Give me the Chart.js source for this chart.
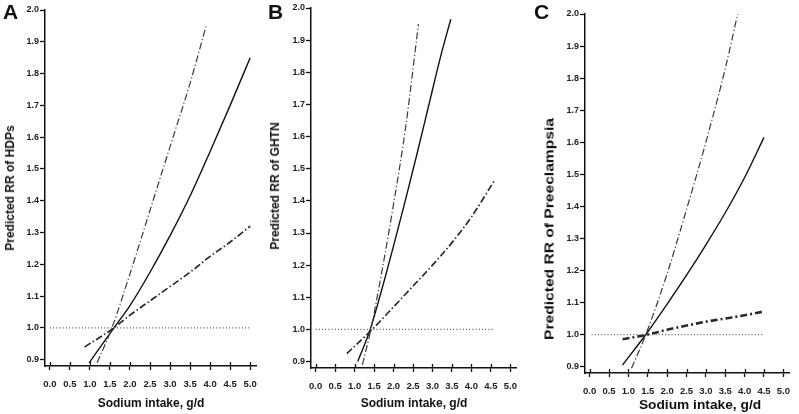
<!DOCTYPE html>
<html>
<head>
<meta charset="utf-8">
<script src="https://cdn.jsdelivr.net/npm/chart.js@4.4.1/dist/chart.umd.min.js"></script>
<style>
    body { margin: 0; background: #fff; width: 799px; height: 414px; position: relative; overflow: hidden; }
    .panel { position: absolute; top: 0; height: 414px; }
    .letter { position: absolute; top: 0; font: bold 21px "Liberation Sans", Arial, sans-serif; color: #111; }
    .title {
        position: absolute; white-space: nowrap; color: #111;
        font-family: "Liberation Sans", Arial, sans-serif; font-weight: bold;
    }
</style>
</head>
<body>
<div class="panel" style="left:0; width:266px"><canvas id="chartA"></canvas></div>
<div class="panel" style="left:266px; width:260px"><canvas id="chartB"></canvas></div>
<div class="panel" style="left:540px; width:259px"><canvas id="chartC"></canvas></div>
<div class="letter" style="left:3px">A</div>
<div class="letter" style="left:268px">B</div>
<div class="letter" style="left:534px">C</div>
<!-- axis titles: centre point, then rotate / stretch like the figure -->
<div class="title" style="left:10px; top:188px; font-size:12px; transform:translate(-50%,-50%) rotate(-90deg)">Predicted RR of HDPs</div>
<div class="title" style="left:275px; top:186px; font-size:12px; transform:translate(-50%,-50%) rotate(-90deg)">Predicted RR of GHTN</div>
<div class="title" style="left:549px; top:229px; font-size:13px; transform:translate(-50%,-50%) rotate(-90deg) scaleX(1.2)">Predicted RR of Preeclampsia</div>
<div class="title" style="left:151px; top:403px; font-size:12px; transform:translate(-50%,-50%)">Sodium intake, g/d</div>
<div class="title" style="left:414px; top:403px; font-size:12px; transform:translate(-50%,-50%)">Sodium intake, g/d</div>
<div class="title" style="left:700px; top:405px; font-size:12.5px; transform:translate(-50%,-50%) scaleX(1.1)">Sodium intake, g/d</div>
<script>
// Tick values shared by the three panels
const xTicks = [0, 0.5, 1, 1.5, 2, 2.5, 3, 3.5, 4, 4.5, 5];
const yTicks = [0.9, 1.0, 1.1, 1.2, 1.3, 1.4, 1.5, 1.6, 1.7, 1.8, 1.9, 2.0];

// A : HDPs
const aFitX = [0.98, 1.6, 2.0, 2.5, 3.0, 3.5, 4.0, 4.5, 5.0];
const aFitY = [0.89, 1.0, 1.07, 1.175, 1.29, 1.415, 1.555, 1.70, 1.85];
const aUpX = [1.18, 1.55, 2.0, 2.5, 3.0, 3.5, 3.9];
const aUpY = [0.89, 1.0, 1.17, 1.37, 1.57, 1.77, 1.95];
const aLowX = [0.87, 1.6, 2.0, 2.5, 3.0, 3.5, 4.0, 4.5, 5.0];
const aLowY = [0.94, 1.0, 1.04, 1.085, 1.13, 1.175, 1.225, 1.27, 1.32];
const aRefX = [0, 5.0];

// B : GHTN
const bFitX = [1.08, 1.4, 1.7, 2.0, 2.3, 2.6, 2.9, 3.2, 3.47];
const bFitY = [0.9, 1.0, 1.125, 1.26, 1.4, 1.545, 1.695, 1.845, 1.965];
const bUpX = [1.2, 1.4, 1.7, 2.0, 2.3, 2.64];
const bUpY = [0.89, 0.99, 1.18, 1.39, 1.62, 1.95];
const bLowX = [0.8, 1.45, 2.0, 2.5, 3.0, 3.5, 4.0, 4.6];
const bLowY = [0.925, 1.0, 1.07, 1.135, 1.2, 1.27, 1.35, 1.465];
const bRefX = [0, 4.6];

// C : Preeclampsia
const cFitX = [0.85, 1.45, 2.0, 2.5, 3.0, 3.5, 4.0, 4.5];
const cFitY = [0.905, 1.0, 1.095, 1.185, 1.28, 1.38, 1.49, 1.615];
const cUpX = [1.08, 1.45, 2.0, 2.5, 3.0, 3.5, 3.82];
const cUpY = [0.895, 1.0, 1.19, 1.39, 1.6, 1.83, 2.0];
const cLowX = [0.85, 1.5, 2.0, 2.5, 3.0, 3.5, 4.0, 4.5];
const cLowY = [0.985, 1.0, 1.015, 1.028, 1.04, 1.05, 1.06, 1.072];
const cRefX = [0.05, 4.5];

const refY = [1, 1];
const FONT = '"Liberation Sans", Arial, sans-serif';

function pts(xs, ys) {
    return xs.map((x, i) => ({ x: x, y: ys[i] }));
}

// tick marks of the x axis go through the axis line, not only below it
const crossTicks = {
    id: 'crossTicks',
    afterDraw(chart) {
        const sx = chart.scales.x;
        const c = chart.ctx;
        c.save();
        c.strokeStyle = '#111';
        c.lineWidth = 1.3;
        xTicks.forEach(v => {
            const px = Math.round(sx.getPixelForValue(v)) + 0.5;
            c.beginPath();
            c.moveTo(px, sx.top - 4);
            c.lineTo(px, sx.top);
            c.stroke();
        });
        c.restore();
    }
};

function makePanel(id, p) {
    const ctx = document.getElementById(id).getContext('2d');
    return new Chart(ctx, {
        type: 'line',
        data: {
            datasets: [
                { data: pts(p.refX, refY), borderColor: '#555', borderWidth: 1.3, borderDash: [1, 2.2], tension: 0 },
                { data: pts(p.lowX, p.lowY), borderColor: '#2a2a2a', borderWidth: p.lowWidth, borderDash: p.lowDash, tension: 0.4 },
                { data: pts(p.upX, p.upY), borderColor: '#3a3a3a', borderWidth: 1.2, borderDash: [7, 2.5, 1.2, 2.5], tension: 0.4 },
                { data: pts(p.fitX, p.fitY), borderColor: '#111', borderWidth: 1.4, tension: 0.4 }
            ]
        },
        plugins: [crossTicks],
        options: {
            responsive: true,
            maintainAspectRatio: false,
            animation: false,
            layout: { padding: { top: p.top, right: p.right, bottom: 0, left: 0 } },
            elements: { point: { radius: 0 }, line: { cubicInterpolationMode: 'monotone' } },
            plugins: { legend: { display: false }, tooltip: { enabled: false } },
            scales: {
                x: {
                    type: 'linear',
                    min: -0.12,
                    max: 5.15,
                    afterBuildTicks: s => { s.ticks = xTicks.map(v => ({ value: v })); },
                    afterFit: s => { s.height = p.xHeight; },
                    border: { display: true, color: '#111', width: 1.5 },
                    grid: { drawOnChartArea: false, color: '#111', tickLength: 4, tickWidth: 1.3 },
                    ticks: {
                        autoSkip: false, maxRotation: 0, padding: 9, color: '#222',
                        font: { family: FONT, size: 9.5, weight: 'bold' },
                        callback: v => v.toFixed(1)
                    }
                },
                y: {
                    min: 0.88,
                    max: 2.0,
                    afterBuildTicks: s => { s.ticks = yTicks.map(v => ({ value: v })); },
                    afterFit: s => { s.width = 45; },
                    border: { display: true, color: '#111', width: 1.5 },
                    grid: { drawOnChartArea: false, color: '#111', tickLength: 5, tickWidth: 1.3 },
                    ticks: {
                        padding: 1, color: '#222',
                        font: { family: FONT, size: 9, weight: 'bold' },
                        callback: v => v.toFixed(1)
                    }
                }
            }
        }
    });
}

makePanel('chartA', {
    fitX: aFitX, fitY: aFitY, upX: aUpX, upY: aUpY, lowX: aLowX, lowY: aLowY, refX: aRefX,
    lowWidth: 1.7, lowDash: [7, 2.5, 1.5, 2.5],
    top: 10, right: 7, xHeight: 48
});

makePanel('chartB', {
    fitX: bFitX, fitY: bFitY, upX: bUpX, upY: bUpY, lowX: bLowX, lowY: bLowY, refX: bRefX,
    lowWidth: 1.7, lowDash: [7, 2.5, 1.5, 2.5],
    top: 8, right: 1, xHeight: 46
});

makePanel('chartC', {
    fitX: cFitX, fitY: cFitY, upX: cUpX, upY: cUpY, lowX: cLowX, lowY: cLowY, refX: cRefX,
    lowWidth: 2.6, lowDash: [7, 3, 2, 3],
    top: 14, right: 1, xHeight: 41
});
</script>
</body>
</html>
